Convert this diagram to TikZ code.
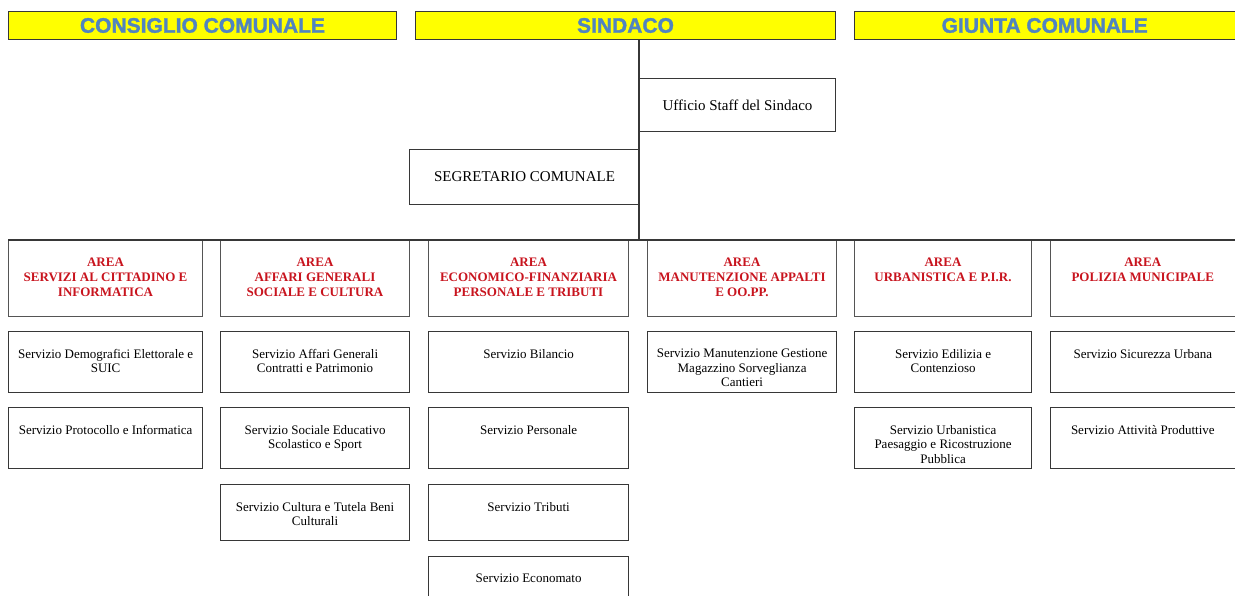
\documentclass[tikz,border=0pt]{standalone}
\usepackage{fontspec}
\setmainfont{Liberation Serif}
\newfontfamily\hdrfont[FakeBold=1.5]{Liberation Sans}
\usetikzlibrary{positioning}
\definecolor{hdryellow}{RGB}{255,255,0}
\definecolor{hdrblue}{RGB}{80,132,192}
\definecolor{areared}{RGB}{200,20,30}
\definecolor{boxline}{RGB}{55,55,55}

\begin{document}
\begin{tikzpicture}[
            x=1pt, y=-1pt,
            hdr/.style={draw=boxline, line width=1pt, fill=hdryellow, anchor=north west, minimum height=28pt, inner sep=0pt, font=\hdrfont\bfseries\fontsize{21}{24}\selectfont, text=hdrblue},
            office/.style={draw=boxline, line width=1pt, anchor=north west, inner sep=0pt, font=\fontsize{15}{17}\selectfont},
            areabox/.style={draw=boxline!85, line width=1pt, anchor=north west, minimum height=76pt, inner sep=0pt},
            arealabel/.style={anchor=north, yshift=-18pt, inner sep=0pt, align=center, text=areared, font=\bfseries\fontsize{13}{15}\selectfont},
            servbox/.style={draw=boxline, line width=1.2pt, anchor=north west, minimum height=61pt, inner sep=0pt},
            servlabel/.style={anchor=north, yshift=-18pt, inner sep=0pt, align=center, font=\fontsize{13}{14.5}\selectfont},
            conn/.style={draw=boxline, line width=1.2pt}
        ]
            \useasboundingbox (0,0) rectangle (1235,596);

            % top row
            \node[hdr, minimum width=388pt] (consiglio) at (8,11) {CONSIGLIO COMUNALE};
            \node[hdr, minimum width=420pt] (sindaco) at (415,11) {SINDACO};
            \node[hdr, minimum width=380.5pt] (giunta) at (854,11) {GIUNTA COMUNALE};

            % staff
            \node[office, minimum width=196pt, minimum height=53pt] (staff) at (639,78) {Ufficio Staff del Sindaco};
            \node[office, minimum width=230pt, minimum height=55pt] (segretario) at (409,149) {SEGRETARIO COMUNALE};

            % aree
            \node[areabox, minimum width=194pt, label={[arealabel]north:{AREA\\SERVIZI AL CITTADINO E\\INFORMATICA}}] (area1) at (8,240) {};
            \node[areabox, minimum width=189pt, label={[arealabel]north:{AREA\\AFFARI GENERALI\\SOCIALE E CULTURA}}] (area2) at (220,240) {};
            \node[areabox, minimum width=200pt, label={[arealabel]north:{AREA\\ECONOMICO-FINANZIARIA\\PERSONALE E TRIBUTI}}] (area3) at (428,240) {};
            \node[areabox, minimum width=189pt, label={[arealabel]north:{AREA\\MANUTENZIONE APPALTI\\E OO.PP.}}] (area4) at (647,240) {};
            \node[areabox, minimum width=177pt, label={[arealabel]north:{AREA\\URBANISTICA E P.I.R.}}] (area5) at (854,240) {};
            \node[areabox, minimum width=184.5pt, label={[arealabel]north:{AREA\\POLIZIA MUNICIPALE}}] (area6) at (1050,240) {};

            % servizi
            \node[servbox, minimum width=194pt, label={[servlabel]north:{Servizio Demografici Elettorale e\\SUIC}}] (serv11) at (8,331) {};
            \node[servbox, minimum width=194pt, label={[servlabel]north:{Servizio Protocollo e Informatica}}] (serv12) at (8,407) {};

            \node[servbox, minimum width=189pt, label={[servlabel]north:{Servizio Affari Generali\\Contratti e Patrimonio}}] (serv21) at (220,331) {};
            \node[servbox, minimum width=189pt, label={[servlabel]north:{Servizio Sociale Educativo\\Scolastico e Sport}}] (serv22) at (220,407) {};
            \node[servbox, minimum width=189pt, minimum height=56pt, label={[servlabel]north:{Servizio Cultura e Tutela Beni\\Culturali}}] (serv23) at (220,484) {};

            \node[servbox, minimum width=200pt, label={[servlabel]north:{Servizio Bilancio}}] (serv31) at (428,331) {};
            \node[servbox, minimum width=200pt, label={[servlabel]north:{Servizio Personale}}] (serv32) at (428,407) {};
            \node[servbox, minimum width=200pt, minimum height=56pt, label={[servlabel]north:{Servizio Tributi}}] (serv33) at (428,484) {};
            \node[servbox, minimum width=200pt, minimum height=40pt, label={[servlabel]north:{Servizio Economato}}] (serv34) at (428,556) {};

            \node[servbox, minimum width=189pt, label={[servlabel]north:{Servizio Manutenzione Gestione\\Magazzino Sorveglianza\\Cantieri}}] (serv41) at (647,331) {};

            \node[servbox, minimum width=177pt, label={[servlabel]north:{Servizio Edilizia e\\Contenzioso}}] (serv51) at (854,331) {};
            \node[servbox, minimum width=177pt, label={[servlabel]north:{Servizio Urbanistica\\Paesaggio e Ricostruzione\\Pubblica}}] (serv52) at (854,407) {};

            \node[servbox, minimum width=184.5pt, label={[servlabel]north:{Servizio Sicurezza Urbana}}] (serv61) at (1050,331) {};
            \node[servbox, minimum width=184.5pt, label={[servlabel]north:{Servizio Attività Produttive}}] (serv62) at (1050,407) {};

            % linee
            \draw[conn] (staff.west |- sindaco.south) -- (staff.west |- area1.north);
            \draw[conn] (area1.north west) -- (area6.north east);
        \end{tikzpicture}
\end{document}
